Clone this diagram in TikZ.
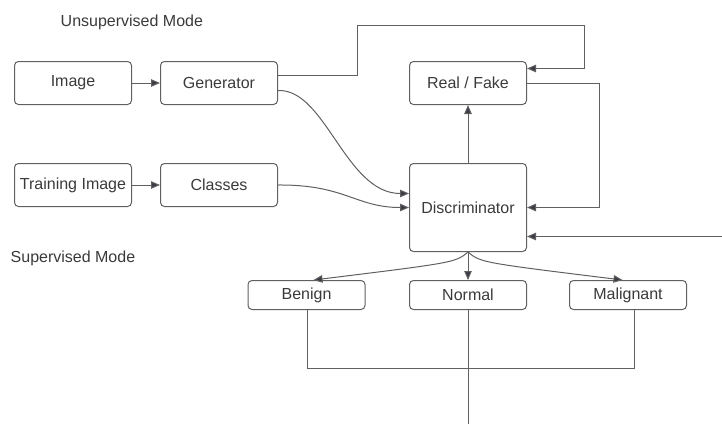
\documentclass[tikz,border=0pt]{standalone}
\usepackage{fontspec}
\setmainfont{Liberation Sans}
\usetikzlibrary{arrows.meta,calc}
\definecolor{txt}{HTML}{3A3A3A}
\definecolor{ln}{HTML}{606060}
\definecolor{tip}{HTML}{3A3D45}
\tikzset{
  box/.style={draw=ln, line width=1pt, rounded corners=4pt, minimum width=117pt, minimum height=43pt, inner sep=0pt, text=txt, font=\fontsize{16}{19}\selectfont},
  sbox/.style={box, minimum height=29pt},
  lbl/.style={text=txt, font=\fontsize{16}{19}\selectfont, anchor=west, inner sep=0pt},
  conn/.style={draw=ln, line width=1pt},
  arr/.style={conn, -{Triangle[length=9pt,width=7.5pt,fill=tip]}}
}
\begin{document}
\begin{tikzpicture}[x=1pt,y=-1pt]
\useasboundingbox (-0.5,-0.5) rectangle (721.5,422.5);
\node[lbl] (um) at (60,22) {Unsupervised Mode};
\node[lbl] (sm) at (10,258) {Supervised Mode};
\node[box] (img) at (72.5,82.5) {Image};
\node[box] (gen) at (218.5,82.5) {Generator};
\node[box] (rf) at (467.5,82.5) {Real / Fake};
\node[box] (tri) at (72.5,184.5) {Training Image};
\node[box] (cls) at (218.5,184.5) {Classes};
\node[box, minimum height=88pt] (dis) at (467.5,207) {Discriminator};
\node[sbox] (ben) at (306,294.5) {Benign};
\node[sbox] (nor) at (467.5,294.5) {Normal};
\node[sbox] (mal) at (627.5,294.5) {Malignant};
\coordinate (ext) at (722,236);
\coordinate (outb) at (467.5,423);

\draw[arr] (img) -- (gen);
\draw[arr] (tri) -- (cls);
\draw[arr] ([yshift=7.5pt]gen.east) -- (357,75) -- (357,25) -- (584,25) -- (584,68) -- ([yshift=14.5pt]rf.east);
\draw[arr] ([yshift=-7.5pt]gen.east) .. controls (325,88) and (345,193) .. ([yshift=14pt]dis.west);
\draw[arr] (cls.east) .. controls (345,184) and (355,207) .. (dis.west);
\draw[arr] (dis.north) -- (rf.south);
\draw[arr] ([yshift=-0.5pt]rf.east) -- (599,83) -- (599,207) -- (dis.east);
\draw[arr] (ext) -- (ext -| dis.east);
\draw[arr] (dis.south) .. controls (455,262) .. ([xshift=7pt]ben.north);
\draw[arr] (dis.south) -- (nor.north);
\draw[arr] (dis.south) .. controls (480,262) .. ([xshift=-5.5pt]mal.north);
\draw[conn] ([xshift=1pt]ben.south) -- (307,368) -- (634,368) -- ([xshift=6.5pt]mal.south);
\draw[conn] (nor.south) -- (outb);
\end{tikzpicture}
\end{document}
